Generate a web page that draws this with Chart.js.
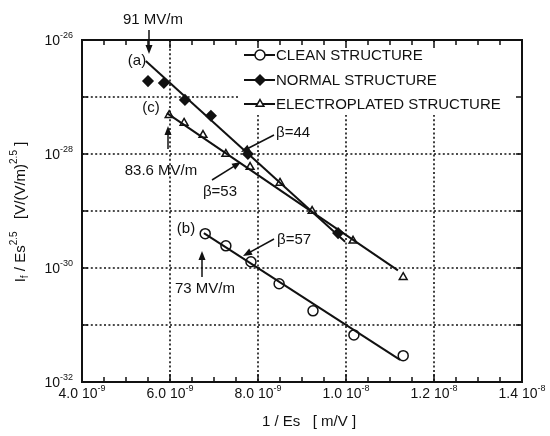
<!DOCTYPE html>
<html>
<head>
<meta charset="utf-8">
<script src="https://cdn.jsdelivr.net/npm/chart.js@4/dist/chart.umd.min.js"></script>
<style>
  body { margin: 0; background: #fff; }
  canvas { display: block; }
</style>
</head>
<body>
<canvas id="myChart" width="550" height="436"></canvas>
<script>
// datos (x = 1/Es en m/V, y = If/Es^2.5)

const cleanX = [6.8e-9, 7.27e-9, 7.84e-9, 8.48e-9, 9.25e-9, 10.18e-9, 11.3e-9];
const cleanY = [4.0e-30, 2.45e-30, 1.29e-30, 5.3e-31, 1.77e-31, 6.7e-32, 2.9e-32];

const normalX = [5.5e-9, 5.86e-9, 6.34e-9, 6.93e-9, 7.77e-9, 9.82e-9];
const normalY = [1.9e-27, 1.76e-27, 8.9e-28, 4.7e-28, 1.0e-28, 4.1e-30];

const electroX = [5.98e-9, 6.32e-9, 6.75e-9, 7.27e-9, 7.82e-9, 8.5e-9, 9.23e-9, 10.16e-9, 11.3e-9];
const electroY = [4.8e-28, 3.5e-28, 2.15e-28, 1.0e-28, 5.9e-29, 3.1e-29, 1.0e-29, 3.0e-30, 6.9e-31];

// rectas de ajuste (a), (b), (c)
const fitAX = [5.45e-9, 9.98e-9];
const fitAY = [4.3e-27, 2.9e-30];
const fitBX = [6.77e-9, 11.23e-9];
const fitBY = [4.1e-30, 2.45e-32];
const fitCX = [5.93e-9, 11.18e-9];
const fitCY = [5.2e-28, 9.1e-31];

// etiquetas de los ejes
const xTickVals = [4e-9, 6e-9, 8e-9, 1.0e-8, 1.2e-8, 1.4e-8];
const xTickMant = ['4.0', '6.0', '8.0', '1.0', '1.2', '1.4'];
const xTickExp = ['-9', '-9', '-9', '-8', '-8', '-8'];
const yTickVals = [1e-26, 1e-28, 1e-30, 1e-32];
const yTickExp = ['-26', '-28', '-30', '-32'];
const yGridVals = [1e-27, 1e-28, 1e-29, 1e-30, 1e-31];
const xGridVals = [6e-9, 8e-9, 1.0e-8, 1.2e-8];

const seriesNames = ['CLEAN STRUCTURE', 'NORMAL STRUCTURE', 'ELECTROPLATED STRUCTURE'];

const FONT = '"Liberation Sans", Arial, Helvetica, sans-serif';
const INK = '#111';

function pts(xs, ys) {
    return xs.map((x, i) => ({ x: x, y: ys[i] }));
}

// dibuja texto con partes normales, superindices y subindices
function drawParts(ctx, parts, x, y, align, size) {
    const small = Math.round(size * 0.64);
    let total = 0;
    parts.forEach(p => {
        ctx.font = (p.s ? small : size) + 'px ' + FONT;
        p.w = ctx.measureText(p.t).width;
        total += p.w;
    });
    let cx = x;
    if (align === 'center') cx = x - total / 2;
    if (align === 'right') cx = x - total;
    ctx.textAlign = 'left';
    ctx.textBaseline = 'middle';
    parts.forEach(p => {
        ctx.font = (p.s ? small : size) + 'px ' + FONT;
        let dy = 0;
        if (p.s === 'sup') dy = -size * 0.42;
        if (p.s === 'sub') dy = size * 0.3;
        ctx.fillText(p.t, cx, y + dy);
        cx += p.w;
    });
}

function arrow(ctx, x1, y1, x2, y2) {
    const ang = Math.atan2(y2 - y1, x2 - x1);
    ctx.beginPath();
    ctx.moveTo(x1, y1);
    ctx.lineTo(x2 - Math.cos(ang) * 6, y2 - Math.sin(ang) * 6);
    ctx.lineWidth = 1.5;
    ctx.stroke();
    ctx.beginPath();
    ctx.moveTo(x2, y2);
    ctx.lineTo(x2 - Math.cos(ang) * 9 + Math.sin(ang) * 3.5, y2 - Math.sin(ang) * 9 - Math.cos(ang) * 3.5);
    ctx.lineTo(x2 - Math.cos(ang) * 9 - Math.sin(ang) * 3.5, y2 - Math.sin(ang) * 9 + Math.cos(ang) * 3.5);
    ctx.closePath();
    ctx.fill();
}

const fondo = {
    id: 'fondo',
    beforeDatasetsDraw(chart) {
        const ctx = chart.ctx;
        const a = chart.chartArea;
        const xs = chart.scales.x;
        const ys = chart.scales.y;
        ctx.save();
        ctx.strokeStyle = INK;
        ctx.lineWidth = 1.6;
        ctx.setLineDash([2, 2.4]);
        xGridVals.forEach(v => {
            const px = Math.round(xs.getPixelForValue(v));
            ctx.beginPath();
            ctx.moveTo(px, a.top);
            ctx.lineTo(px, a.bottom);
            ctx.stroke();
        });
        yGridVals.forEach(v => {
            const py = Math.round(ys.getPixelForValue(v));
            ctx.beginPath();
            ctx.moveTo(a.left, py);
            ctx.lineTo(a.right, py);
            ctx.stroke();
        });
        ctx.setLineDash([]);

        // leyenda con fondo blanco
        ctx.fillStyle = '#fff';
        ctx.fillRect(240, a.top + 2, a.right - 242, 73);
        const rows = [55, 80, 104];
        const styles = ['circle', 'rectRot', 'triangle'];
        const fills = ['#fff', INK, '#fff'];
        const radios = [5, 5, 4.5];
        rows.forEach((ry, i) => {
            ctx.strokeStyle = INK;
            ctx.lineWidth = 2;
            ctx.beginPath();
            ctx.moveTo(244, ry);
            ctx.lineTo(275, ry);
            ctx.stroke();
            ctx.fillStyle = fills[i];
            ctx.lineWidth = 1.5;
            Chart.helpers.drawPoint(ctx, { pointStyle: styles[i], radius: radios[i], rotation: 0, borderWidth: 1.5 }, 260, ry);
            ctx.fillStyle = INK;
            ctx.font = '15px ' + FONT;
            ctx.textAlign = 'left';
            ctx.textBaseline = 'middle';
            ctx.fillText(seriesNames[i], 276, ry + 1);
        });
        ctx.restore();
    },
    afterDraw(chart) {
        const ctx = chart.ctx;
        const a = chart.chartArea;
        const xs = chart.scales.x;
        const ys = chart.scales.y;
        ctx.save();
        ctx.strokeStyle = INK;
        ctx.fillStyle = INK;

        // marco
        ctx.lineWidth = 2;
        ctx.strokeRect(a.left, a.top, a.right - a.left, a.bottom - a.top);

        // marcas menores del eje x
        ctx.lineWidth = 1.5;
        for (let v = 4.5e-9; v < 1.4e-8; v += 0.5e-9) {
            const px = Math.round(xs.getPixelForValue(v));
            const major = Math.abs(v / 2e-9 - Math.round(v / 2e-9)) < 1e-6;
            const len = major ? 8 : 5;
            ctx.beginPath();
            ctx.moveTo(px, a.bottom);
            ctx.lineTo(px, a.bottom - len);
            ctx.moveTo(px, a.top);
            ctx.lineTo(px, a.top + len);
            ctx.stroke();
        }
        yGridVals.forEach(v => {
            const py = Math.round(ys.getPixelForValue(v));
            ctx.beginPath();
            ctx.moveTo(a.left, py);
            ctx.lineTo(a.left + 6, py);
            ctx.moveTo(a.right, py);
            ctx.lineTo(a.right - 6, py);
            ctx.stroke();
        });

        // etiquetas
        xTickVals.forEach((v, i) => {
            const px = xs.getPixelForValue(v);
            drawParts(ctx, [{ t: xTickMant[i] + ' 10' }, { t: xTickExp[i], s: 'sup' }], px, a.bottom + 12, 'center', 14);
        });
        yTickVals.forEach((v, i) => {
            const py = ys.getPixelForValue(v);
            drawParts(ctx, [{ t: '10' }, { t: yTickExp[i], s: 'sup' }], a.left - 9, py + 1, 'right', 14);
        });

        // titulos
        drawParts(ctx, [{ t: '1 / Es   [ m/V ]' }], 309, 422, 'center', 15);
        ctx.save();
        ctx.translate(21, 212);
        ctx.rotate(-Math.PI / 2);
        drawParts(ctx, [
            { t: 'I' }, { t: 'f', s: 'sub' }, { t: ' / Es' }, { t: '2.5', s: 'sup' },
            { t: '   [V/(V/m)' }, { t: '2.5', s: 'sup' }, { t: ' ]' }
        ], 0, 0, 'center', 15);
        ctx.restore();

        // anotaciones
        const notas = [
            { t: '91 MV/m', x: 153, y: 20, al: 'center' },
            { t: '(a)', x: 137, y: 61, al: 'center' },
            { t: '(c)', x: 151, y: 108, al: 'center' },
            { t: '83.6 MV/m', x: 161, y: 171, al: 'center' },
            { t: 'β=44', x: 276, y: 133, al: 'left' },
            { t: 'β=53', x: 220, y: 192, al: 'center' },
            { t: '(b)', x: 186, y: 229, al: 'center' },
            { t: '73 MV/m', x: 205, y: 289, al: 'center' },
            { t: 'β=57', x: 277, y: 240, al: 'left' }
        ];
        notas.forEach(n => drawParts(ctx, [{ t: n.t }], n.x, n.y, n.al, 15));
        arrow(ctx, 149, 30, 149, 54);
        arrow(ctx, 168, 149, 168, 126);
        arrow(ctx, 274, 135, 241, 152);
        arrow(ctx, 212, 180, 241, 162);
        arrow(ctx, 202, 277, 202, 251);
        arrow(ctx, 274, 239, 243, 256);
        ctx.restore();
    }
};

const ctx = document.getElementById('myChart');
new Chart(ctx, {
    type: 'scatter',
    data: {
        datasets: [
            { data: pts(fitAX, fitAY), showLine: true, pointRadius: 0, borderColor: INK, borderWidth: 2 },
            { data: pts(fitBX, fitBY), showLine: true, pointRadius: 0, borderColor: INK, borderWidth: 2 },
            { data: pts(fitCX, fitCY), showLine: true, pointRadius: 0, borderColor: INK, borderWidth: 2 },
            {
                label: seriesNames[0], data: pts(cleanX, cleanY), pointStyle: 'circle', pointRadius: 5,
                borderColor: INK, backgroundColor: '#fff', borderWidth: 1.5
            },
            {
                label: seriesNames[1], data: pts(normalX, normalY), pointStyle: 'rectRot', pointRadius: 5,
                borderColor: INK, backgroundColor: INK, borderWidth: 1.5
            },
            {
                label: seriesNames[2], data: pts(electroX, electroY), pointStyle: 'triangle', pointRadius: 4.5,
                borderColor: INK, backgroundColor: '#fff', borderWidth: 1.5
            }
        ]
    },
    options: {
        responsive: false,
        animation: false,
        devicePixelRatio: 1,
        layout: { padding: { left: 82, right: 28, top: 40, bottom: 54 } },
        scales: {
            x: { type: 'linear', min: 4e-9, max: 1.4e-8, display: false },
            y: { type: 'logarithmic', min: 1e-32, max: 1e-26, display: false }
        },
        plugins: {
            legend: { display: false },
            tooltip: { enabled: false }
        }
    },
    plugins: [fondo]
});
</script>
</body>
</html>
